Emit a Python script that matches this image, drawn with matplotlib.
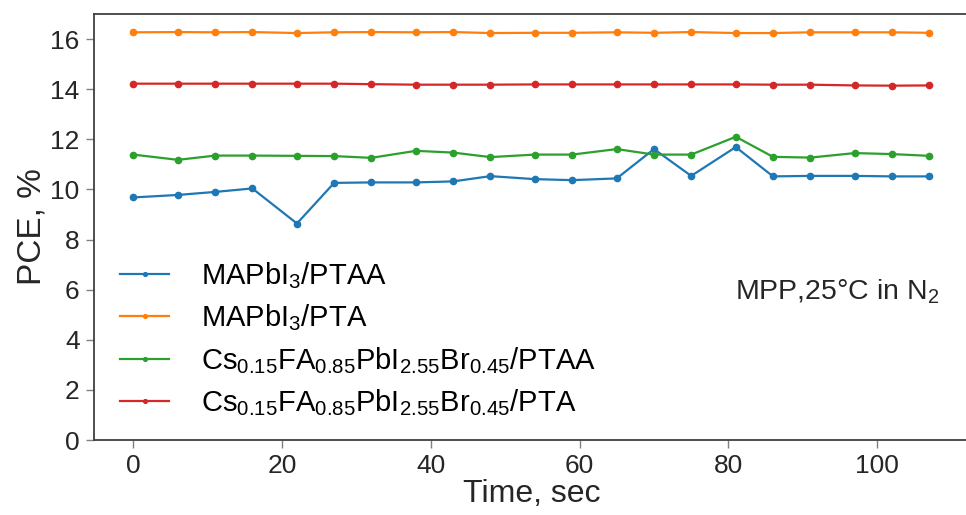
import matplotlib
matplotlib.use("Agg")
import matplotlib.pyplot as plt

# --- data ---
time_s = [0, 6, 11, 16, 22, 27, 32, 38, 43, 48, 54, 59, 65, 70, 75, 81, 86, 91, 97, 102, 107]

mapbi3_ptaa = [9.68, 9.78, 9.90, 10.04, 8.64, 10.26, 10.28, 10.28, 10.32, 10.53,
               10.41, 10.37, 10.44, 11.61, 10.54, 11.69, 10.52, 10.54, 10.54, 10.52, 10.52]
mapbi3_pta = [16.27, 16.28, 16.27, 16.28, 16.24, 16.27, 16.28, 16.27, 16.28, 16.24,
              16.25, 16.25, 16.27, 16.25, 16.28, 16.24, 16.24, 16.27, 16.27, 16.27, 16.25]
csfa_ptaa = [11.39, 11.18, 11.35, 11.35, 11.34, 11.33, 11.26, 11.54, 11.47, 11.29,
             11.39, 11.39, 11.61, 11.39, 11.39, 12.10, 11.30, 11.27, 11.45, 11.41, 11.34]
csfa_pta = [14.22, 14.22, 14.22, 14.22, 14.22, 14.22, 14.20, 14.18, 14.18, 14.18,
            14.19, 14.19, 14.19, 14.19, 14.19, 14.19, 14.18, 14.18, 14.15, 14.14, 14.15]

labels = [
    "MAPbI$_3$/PTAA",
    "MAPbI$_3$/PTA",
    "Cs$_{0.15}$FA$_{0.85}$PbI$_{2.55}$Br$_{0.45}$/PTAA",
    "Cs$_{0.15}$FA$_{0.85}$PbI$_{2.55}$Br$_{0.45}$/PTA",
]
series = [mapbi3_ptaa, mapbi3_pta, csfa_ptaa, csfa_pta]

plt.rcParams['font.family'] = ['Liberation Sans', 'DejaVu Sans']
plt.rcParams['mathtext.default'] = 'regular'

fig = plt.figure(figsize=(9.66, 5.15), dpi=100)
ax = fig.add_axes([0.0968, 0.1456, 0.9063, 0.8272])

for vals, lab in zip(series, labels):
    ax.plot(time_s, vals, marker='o', markersize=4.5, linewidth=1.6, label=lab)

ax.set_ylim(0, 17)
ax.set_xlim(-5.35, 112.35)
ax.set_yticks(range(0, 17, 2))
ax.set_xticks(range(0, 101, 20))

ax.set_xlabel("Time, sec", fontsize=23, color='#262626', labelpad=1)
ax.set_ylabel("PCE, %", fontsize=24, color='#262626', labelpad=2)

for side in ['left', 'bottom', 'top']:
    ax.spines[side].set_color('#404040')
    ax.spines[side].set_linewidth(1.3)
ax.spines['right'].set_visible(False)
ax.tick_params(labelsize=19, colors='#262626', length=6, width=1, pad=4)
ax.tick_params(axis='both', color='#808080')

ax.text(0.733, 0.347, "MPP,25°C in N$_2$", transform=ax.transAxes,
        fontsize=20.5, color='#262626', va='center', ha='left')

ax.legend(loc='lower left', bbox_to_anchor=(0.0, -0.01), frameon=False,
          fontsize=21, markerscale=0.6, handlelength=1.7, labelspacing=0.4,
          handletextpad=1.1)

fig.savefig("out.png", dpi=100)
